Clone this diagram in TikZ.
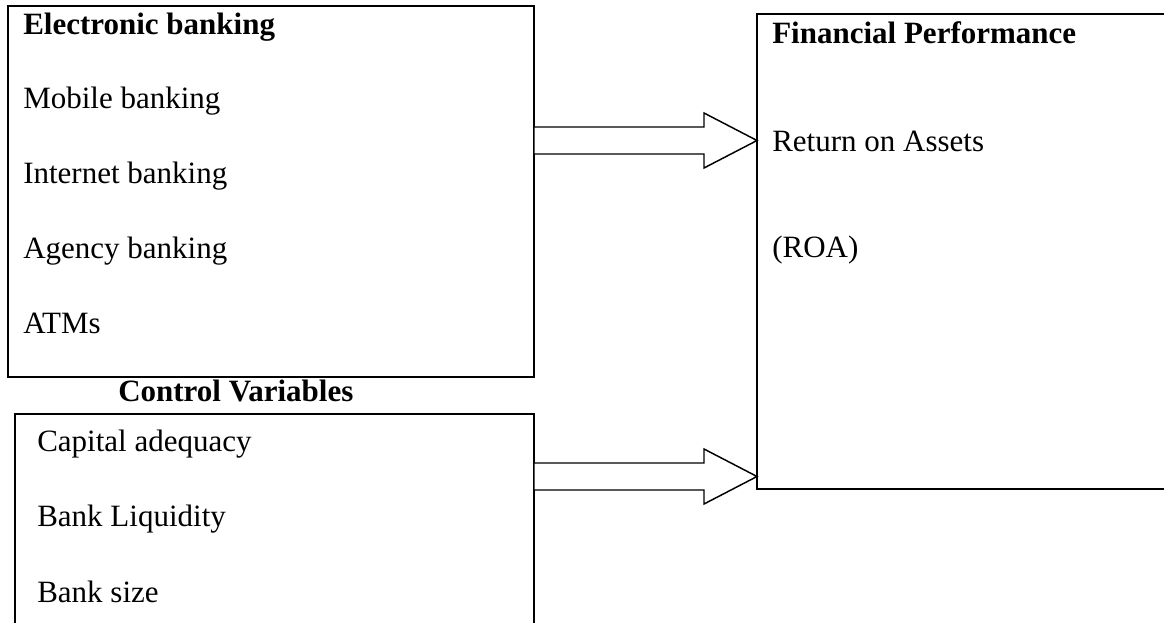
\documentclass[tikz,border=0pt]{standalone}
\usepackage{fontspec}
\setmainfont{Liberation Serif}
\usetikzlibrary{calc}

% block arrow from (#1) to its tip at (#2)
\newcommand{\fatarrow}[2]{%
  \draw[fatarrow]
    ($(#1)+(0,-13.5)$) -- ($(#2)+(-53,-13.5)$) -- ($(#2)+(-53,-27.5)$) --
    (#2) -- ($(#2)+(-53,27.5)$) -- ($(#2)+(-53,13.5)$) --
    ($(#1)+(0,13.5)$) -- cycle;
}

\begin{document}
\begin{tikzpicture}[x=0.75pt,y=-0.75pt,line join=miter,
    box/.style={draw,line width=1.5pt,inner sep=0,outer sep=0},
    fatarrow/.style={draw,line width=1.1pt,fill=white},
    item/.style={anchor=base west,inner sep=0,font=\fontsize{23.25}{28}\selectfont},
    head/.style={item,font=\fontsize{23.25}{28}\selectfont\bfseries}]
  \useasboundingbox (0,0) rectangle (1164,623);
  \clip (0,0) rectangle (1164,623);
  % boxes
  \node[box,minimum width=394.5pt,minimum height=278.25pt] (ebank) at (271,191.5) {};
  \node[box,minimum width=389.25pt,minimum height=199.5pt] (ctrl) at (274.5,547) {};
  \node[box,minimum width=369.75pt,minimum height=356.25pt] (perf) at (1003.5,251.5) {};
  % texts
  \node[head] (ebanktitle) at (23,35) {Electronic banking};
  \node[item] (mobile) at (23,109) {Mobile banking};
  \node[item] (internet) at (23,184) {Internet banking};
  \node[item] (agency) at (23,259) {Agency banking};
  \node[item] (atm) at (23,334) {ATMs};
  \node[head] (ctrltitle) at (118,402) {Control Variables};
  \node[item] (capital) at (37,452) {Capital adequacy};
  \node[item] (liquidity) at (37,527) {Bank Liquidity};
  \node[item] (size) at (37,602) {Bank size};
  \node[head] (perftitle) at (772,44) {Financial Performance};
  \node[item] (roa) at (772,152) {Return on Assets};
  \node[item] (roashort) at (772,258) {(ROA)};
  % arrows
  \coordinate (ya) at (0,140.5);
  \coordinate (yb) at (0,476.5);
  \coordinate (a1s) at (ebank.east |- ya);
  \coordinate (a1e) at (perf.west |- ya);
  \coordinate (a2s) at (ctrl.east |- yb);
  \coordinate (a2e) at (perf.west |- yb);
  \fatarrow{a1s}{a1e}
  \fatarrow{a2s}{a2e}
\end{tikzpicture}
\end{document}
